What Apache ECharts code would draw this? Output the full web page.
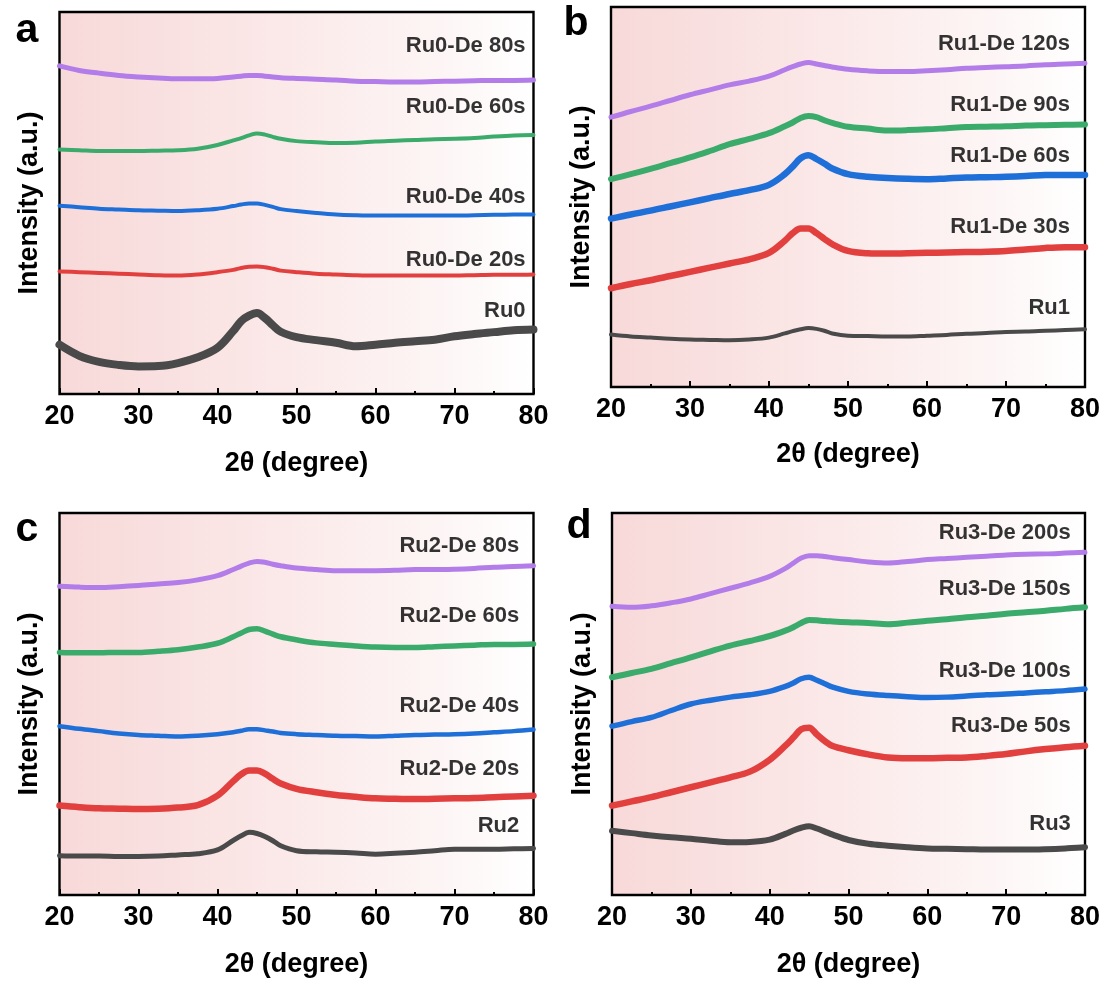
<!DOCTYPE html>
<html>
<head>
<meta charset="utf-8">
<script src="https://cdn.jsdelivr.net/npm/echarts@6/dist/echarts.min.js"></script>
<style>
  html, body { margin: 0; padding: 0; background: #ffffff; }
  #chart { width: 1107px; height: 981px; }
</style>
</head>
<body>
<div id="chart"></div>
<script>
// ---------- data (2θ grid, intensities in arbitrary offset units 0-100) ----------
const twoTheta = [20,22.5,25,27.5,30,32.5,35,37.5,40,42,43,44,45,46,47,48,50,52.5,55,57.5,60,62.5,65,67.5,70,72.5,75,77.5,80];
const xTicks = [20,30,40,50,60,70,80];

// panel a
const a_names = ['Ru0','Ru0-De 20s','Ru0-De 40s','Ru0-De 60s','Ru0-De 80s'];
const a_Ru0   = [12.9,10.0,8.4,7.6,7.2,7.3,8.1,9.6,12.1,16.5,19.1,20.5,21.2,19.9,18.0,16.3,14.9,14.1,13.4,12.5,12.9,13.4,13.8,14.2,15.1,15.7,16.2,16.7,16.9];
const a_De20  = [32.1,31.9,31.7,31.5,31.3,31.1,31.0,31.3,31.9,32.5,33.0,33.3,33.4,33.2,32.8,32.3,31.9,31.5,31.3,31.1,31.0,31.0,31.0,31.0,31.0,31.1,31.2,31.2,31.3];
const a_De40  = [49.3,48.9,48.5,48.3,48.1,48.0,47.9,48.1,48.5,49.2,49.6,49.9,49.9,49.5,49.0,48.4,47.9,47.4,47.0,46.8,46.7,46.7,46.7,46.7,46.7,46.8,46.9,47.0,47.0];
const a_De60  = [64.0,63.8,63.6,63.6,63.6,63.7,63.8,64.2,65.2,66.4,67.0,67.7,68.2,67.9,67.3,66.8,66.2,65.9,65.7,65.8,66.1,66.3,66.5,66.7,66.8,67.0,67.4,67.7,67.8];
const a_De80  = [85.9,84.7,84.0,83.4,83.0,82.7,82.5,82.5,82.6,83.0,83.2,83.4,83.4,83.2,83.0,82.8,82.6,82.4,82.2,81.9,81.8,81.7,81.7,81.8,81.9,82.0,82.1,82.1,82.2];
const a_labelY = [21.7,35.0,51.6,75.2,91.1];
const a_labelX = 79.0;

// panel b
const b_names = ['Ru1','Ru1-De 30s','Ru1-De 60s','Ru1-De 90s','Ru1-De 120s'];
const b_Ru1   = [13.8,13.3,13.0,12.7,12.5,12.4,12.3,12.5,13.0,14.1,14.7,15.2,15.5,15.3,14.8,14.1,13.5,13.4,13.3,13.3,13.5,13.7,14.0,14.2,14.5,14.6,14.8,15.0,15.2];
const b_De30  = [26.0,27.1,28.1,29.2,30.3,31.4,32.5,33.6,35.3,38.5,40.5,41.7,41.7,40.5,39.0,37.6,35.8,35.2,35.1,35.2,35.3,35.4,35.5,35.6,35.8,36.2,36.6,36.8,36.8];
const b_De60  = [44.3,45.4,46.4,47.5,48.6,49.7,50.8,51.8,53.2,56.0,58.0,60.2,61.0,60.0,58.8,57.5,56.0,55.3,55.0,54.8,54.7,54.9,55.1,55.2,55.3,55.5,55.8,55.8,55.8];
const b_De90  = [54.7,56.0,57.4,58.9,60.4,62.1,63.9,65.3,66.8,68.6,69.6,70.8,71.3,71.0,70.2,69.5,68.5,68.0,67.5,67.6,67.8,68.1,68.4,68.5,68.6,68.8,68.9,69.0,69.1];
const b_De120 = [71.0,72.5,73.9,75.4,76.9,78.2,79.5,80.5,81.8,83.5,84.3,85.0,85.4,85.0,84.6,84.2,83.6,83.2,83.0,83.0,83.2,83.5,83.9,84.1,84.3,84.5,84.8,85.0,85.2];
const b_labelY = [20.7,42.1,60.8,74.3,90.4];
const b_labelX = 78.1;

// panel c
const c_names = ['Ru2','Ru2-De 20s','Ru2-De 40s','Ru2-De 60s','Ru2-De 80s'];
const c_Ru2   = [10.3,10.2,10.2,10.1,10.1,10.2,10.5,10.8,11.8,14.3,15.5,16.4,16.1,15.3,14.2,12.9,11.6,11.3,11.2,11.0,10.7,10.9,11.2,11.6,12.0,12.0,12.0,12.1,12.2];
const c_De20  = [23.4,23.0,22.7,22.6,22.5,22.6,22.9,23.5,26.0,29.8,31.6,32.6,32.6,31.8,30.4,29.2,27.8,26.9,26.2,25.7,25.3,25.2,25.1,25.2,25.3,25.4,25.6,25.8,26.0];
const c_De40  = [44.2,43.5,42.9,42.3,41.9,41.7,41.5,41.7,42.1,42.6,43.0,43.4,43.4,43.1,42.8,42.4,42.1,41.9,41.7,41.6,41.5,41.7,41.9,42.0,42.1,42.3,42.6,42.9,43.3];
const c_De60  = [63.5,63.4,63.4,63.5,63.5,63.8,64.2,64.9,65.9,67.6,68.6,69.5,69.7,69.1,68.3,67.6,66.8,66.0,65.6,65.2,64.9,64.8,64.8,65.0,65.2,65.4,65.6,65.6,65.7];
const c_De80  = [80.8,80.6,80.5,80.7,81.0,81.4,81.8,82.5,83.6,85.2,86.1,86.9,87.3,87.1,86.6,86.2,85.6,85.2,84.9,84.9,84.9,85.0,85.2,85.2,85.3,85.5,85.8,86.0,86.2];
const c_labelY = [18.2,33.0,49.6,73.1,91.4];
const c_labelX = 78.2;

// panel d
const d_names = ['Ru3','Ru3-De 50s','Ru3-De 100s','Ru3-De 150s','Ru3-De 200s'];
const d_Ru3   = [16.8,16.2,15.6,15.1,14.7,14.2,13.8,13.9,14.5,16.0,16.9,17.6,18.0,17.4,16.6,15.8,14.4,13.4,12.9,12.5,12.2,12.1,12.0,11.9,11.9,11.9,12.0,12.2,12.5];
const d_De50  = [23.4,24.5,25.6,26.9,28.2,29.5,30.8,32.3,35.4,39.1,41.2,43.4,43.8,42.0,40.3,39.0,37.9,36.8,36.0,35.8,35.8,35.9,36.0,36.4,36.9,37.6,38.2,38.7,39.1];
const d_De100 = [44.2,45.4,46.5,48.3,50.0,51.0,51.8,52.4,53.3,54.6,55.5,56.6,57.0,56.2,55.3,54.4,53.3,52.6,52.2,51.9,51.7,51.8,52.1,52.4,52.6,52.9,53.2,53.5,53.9];
const d_De150 = [57.0,58.1,59.2,60.7,62.2,63.8,65.3,66.5,67.8,69.2,70.1,71.2,72.0,71.9,71.7,71.6,71.4,71.2,70.9,71.3,71.8,72.2,72.7,73.1,73.6,74.0,74.4,74.9,75.3];
const d_De200 = [75.6,75.3,75.7,76.5,77.5,78.9,80.3,81.7,83.4,85.5,86.9,88.2,88.8,88.8,88.6,88.3,87.8,87.2,86.9,87.3,87.8,88.1,88.4,88.7,89.0,89.2,89.3,89.5,89.7];
const d_labelY = [18.6,44.3,58.7,80.1,94.9];
const d_labelX = 78.2;

const panelLetters = ['a','b','c','d'];
const xTitle = '2θ (degree)';
const yTitle = 'Intensity (a.u.)';

// ---------- styling ----------
const colors = ['#4a4a4a','#e2403f','#1f6fd8','#3aab6b','#b27de8'];
const FONT = 'Arial, "Liberation Sans", sans-serif';
const panels = [
  { series:[a_Ru0,a_De20,a_De40,a_De60,a_De80], names:a_names, labelY:a_labelY, labelX:a_labelX,
    grid:{left:59.5, top:12, width:474, height:382}, widths:[8,4,4,4,5], nameGap:56, letter:[27,31] },
  { series:[b_Ru1,b_De30,b_De60,b_De90,b_De120], names:b_names, labelY:b_labelY, labelX:b_labelX,
    grid:{left:611, top:7, width:474, height:380}, widths:[4,6.5,6.5,6,5], nameGap:54, letter:[576,24] },
  { series:[c_Ru2,c_De20,c_De40,c_De60,c_De80], names:c_names, labelY:c_labelY, labelX:c_labelX,
    grid:{left:59.5, top:513, width:474, height:382}, widths:[5,6.5,4.5,5.5,5], nameGap:56, letter:[27,530] },
  { series:[d_Ru3,d_De50,d_De100,d_De150,d_De200], names:d_names, labelY:d_labelY, labelX:d_labelX,
    grid:{left:612, top:513, width:473, height:382}, widths:[6,6.5,5.5,6,5], nameGap:56, letter:[579,527] }
];

const bgGradient = {
  type:'linear', x:0, y:0, x2:1, y2:0,
  colorStops:[
    {offset:0, color:'#f8d9d9'},
    {offset:0.45, color:'#fbe8e8'},
    {offset:0.8, color:'#fdf5f5'},
    {offset:1, color:'#ffffff'}
  ]
};

const option = {
  animation:false,
  backgroundColor:'#ffffff',
  grid:[], xAxis:[], yAxis:[], series:[], graphic:[]
};

panels.forEach((p, i) => {
  option.grid.push(Object.assign({
    show:true, borderColor:'#000', borderWidth:2.4, backgroundColor:bgGradient, containLabel:false
  }, p.grid));
  option.xAxis.push({
    gridIndex:i, type:'value', min:20, max:80, interval:10,
    axisLine:{show:false},
    axisTick:{show:true, inside:true, length:6, lineStyle:{color:'#000', width:2}},
    minorTick:{show:true, splitNumber:2, length:3, lineStyle:{color:'#000', width:2}},
    splitLine:{show:false}, minorSplitLine:{show:false},
    axisLabel:{show:true, margin:9, color:'#000', fontSize:27, fontWeight:'bold', fontFamily:FONT,
      formatter: v => (xTicks.indexOf(v) >= 0 ? String(v) : '')},
    name:xTitle, nameLocation:'middle', nameGap:p.nameGap,
    nameTextStyle:{color:'#000', fontSize:27, fontWeight:'bold', fontFamily:FONT}
  });
  option.yAxis.push({
    gridIndex:i, type:'value', min:0, max:100,
    axisLine:{show:false}, axisTick:{show:false}, axisLabel:{show:false}, splitLine:{show:false},
    name:yTitle, nameLocation:'middle', nameGap:16,
    nameTextStyle:{color:'#000', fontSize:27, fontWeight:'bold', fontFamily:FONT}
  });
  p.series.forEach((vals, k) => {
    option.series.push({
      type:'line', xAxisIndex:i, yAxisIndex:i, name:p.names[k],
      data: twoTheta.map((x, j) => [x, vals[j]]),
      showSymbol:false, smooth:0.35, silent:true,
      lineStyle:{color:colors[k], width:p.widths[k], cap:'round', join:'round'},
      z:2
    });
  });
  // curve labels, placed in data coordinates
  option.series.push({
    type:'scatter', xAxisIndex:i, yAxisIndex:i, symbolSize:0, silent:true, z:5,
    data: p.names.map((n, k) => ({value:[p.labelX, p.labelY[k]], name:n})),
    label:{show:true, position:'left', distance:0, formatter:'{b}', color:'#000',
      fontSize:22, fontWeight:'bold', fontFamily:FONT}
  });
  option.graphic.push({
    type:'text', x:p.letter[0], y:p.letter[1], z:10,
    style:{text:panelLetters[i], fill:'#000', fontSize:41, fontWeight:'bold', fontFamily:FONT,
      textAlign:'center', textVerticalAlign:'middle'}
  });
});

const chart = echarts.init(document.getElementById('chart'), null, {renderer:'canvas'});
chart.setOption(option);
</script>
</body>
</html>
